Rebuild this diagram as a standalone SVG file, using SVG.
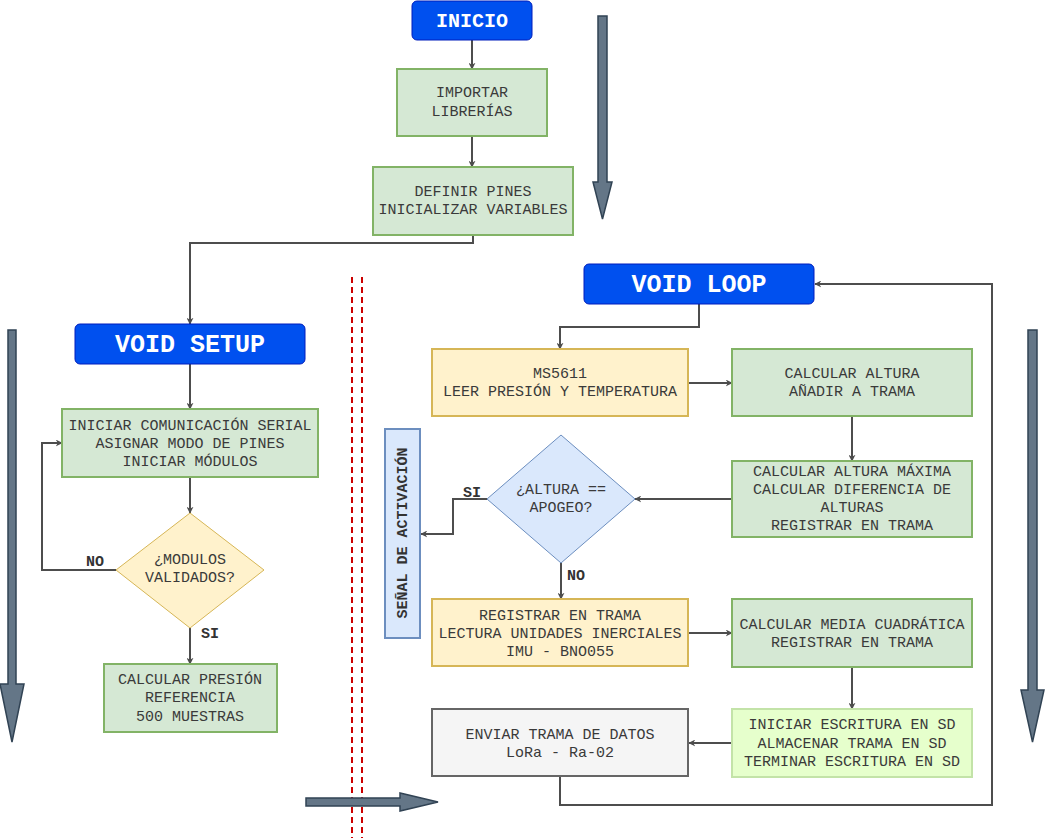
<svg xmlns="http://www.w3.org/2000/svg" width="1045" height="838" viewBox="0 0 1045 838">
<style>
.t{font-family:"Liberation Mono","Courier New",monospace;font-size:15px;fill:#3a3a3a;text-anchor:middle}
.h{font-family:"Liberation Mono","Courier New",monospace;font-weight:bold;fill:#fff;text-anchor:middle}
.lb{font-family:"Liberation Mono","Courier New",monospace;font-weight:bold;font-size:15px;fill:#333;text-anchor:middle}
.blue{fill:#0050ef;stroke:#001dbc;stroke-width:1}
.green{fill:#d5e8d4;stroke:#82b366;stroke-width:2}
.yellow{fill:#fff2cc;stroke:#d6b656;stroke-width:2}
.lgreen{fill:#e6ffcc;stroke:#c3e3a8;stroke-width:2}
.gray{fill:#f5f5f5;stroke:#666;stroke-width:2}
.lblue{fill:#dae8fc;stroke:#6c8ebf;stroke-width:2}
.big{fill:#647687;stroke:#314354;stroke-width:1.5}
.c{fill:none;stroke:#4d4d4d;stroke-width:2;marker-end:url(#a)}
.red{stroke:#cc0000;stroke-width:2;stroke-dasharray:6 4}
</style>
<defs>
<marker id="a" viewBox="0 0 10 10" refX="9" refY="5" markerWidth="7" markerHeight="7" orient="auto" markerUnits="userSpaceOnUse">
<path d="M0,0 L10,5 L0,10 L3,5 Z" fill="#4d4d4d"/>
</marker>
</defs>

<g id="divider">
<line class="red" x1="352" y1="277" x2="352" y2="838"/>
<line class="red" x1="362" y1="277" x2="362" y2="838"/>
</g>

<g id="big-arrows">
<polygon class="big" points="598,16 607,16 607,182 612,182 602.5,219 593,182 598,182"/>
<polygon class="big" points="8,330 16,330 16,684 24,684 12,742 0,684 8,684"/>
<polygon class="big" points="1028,330 1037,330 1037,690 1044,690 1032.5,742 1021,690 1028,690"/>
<polygon class="big" points="306,798 400,798 400,793 438,802 400,811 400,806 306,806"/>
</g>

<g id="connectors">
<path class="c" d="M472,40 V69"/>
<path class="c" d="M472,136 V167"/>
<path class="c" d="M473,235 V243 H190 V324"/>
<path class="c" d="M190,364 V409"/>
<path class="c" d="M190,477 V513"/>
<path class="c" d="M116,570 H42 V443 H62"/>
<path class="c" d="M190,628 V664"/>
<path class="c" d="M699,304 V327 H560 V349"/>
<path class="c" d="M688,383 H732"/>
<path class="c" d="M852,416 V461"/>
<path class="c" d="M732,499 H635"/>
<path class="c" d="M487,499 H453 V534 H421"/>
<path class="c" d="M561,563 V599"/>
<path class="c" d="M688,633 H732"/>
<path class="c" d="M852,667 V709"/>
<path class="c" d="M732,743 H689"/>
<path class="c" d="M560,776 V805 H992 V284 H815"/>
<text class="lb" x="95" y="566">NO</text>
<text class="lb" x="210" y="638">SI</text>
<text class="lb" x="472" y="497">SI</text>
<text class="lb" x="576" y="580">NO</text>
</g>

<g id="inicio">
<rect class="blue" x="412" y="1" width="120" height="39" rx="5"/>
<text class="h" x="472" y="27" font-size="20">INICIO</text>
</g>

<g id="importar">
<rect class="green" x="397" y="69" width="150" height="67"/>
<text class="t" x="472" y="97">IMPORTAR</text>
<text class="t" x="472" y="116">LIBRERÍAS</text>
</g>

<g id="definir">
<rect class="green" x="373" y="167" width="200" height="68"/>
<text class="t" x="473" y="196">DEFINIR PINES</text>
<text class="t" x="473" y="214">INICIALIZAR VARIABLES</text>
</g>

<g id="void-setup">
<rect class="blue" x="75" y="324" width="230" height="40" rx="5"/>
<text class="h" x="190" y="352" font-size="25">VOID SETUP</text>
</g>

<g id="iniciar">
<rect class="green" x="62" y="409" width="256" height="68"/>
<text class="t" x="190" y="430">INICIAR COMUNICACIÓN SERIAL</text>
<text class="t" x="190" y="448">ASIGNAR MODO DE PINES</text>
<text class="t" x="190" y="466">INICIAR MÓDULOS</text>
</g>

<g id="modulos">
<polygon points="190,513 264,570 190,628 116,570" fill="#fff2cc" stroke="#d6b656" stroke-width="1"/>
<text class="t" x="190" y="564">¿MODULOS</text>
<text class="t" x="190" y="582">VALIDADOS?</text>
</g>

<g id="presion">
<rect class="green" x="104" y="664" width="173" height="68"/>
<text class="t" x="190" y="684">CALCULAR PRESIÓN</text>
<text class="t" x="190" y="702">REFERENCIA</text>
<text class="t" x="190" y="721">500 MUESTRAS</text>
</g>

<g id="void-loop">
<rect class="blue" x="584" y="264" width="230" height="40" rx="5"/>
<text class="h" x="699" y="292" font-size="25">VOID LOOP</text>
</g>

<g id="ms5611">
<rect class="yellow" x="432" y="349" width="256" height="67"/>
<text class="t" x="560" y="378">MS5611</text>
<text class="t" x="560" y="396">LEER PRESIÓN Y TEMPERATURA</text>
</g>

<g id="altura">
<rect class="green" x="732" y="349" width="240" height="67"/>
<text class="t" x="852" y="378">CALCULAR ALTURA</text>
<text class="t" x="852" y="396">AÑADIR A TRAMA</text>
</g>

<g id="altura-max">
<rect class="green" x="732" y="461" width="240" height="76"/>
<text class="t" x="852" y="476">CALCULAR ALTURA MÁXIMA</text>
<text class="t" x="852" y="494">CALCULAR DIFERENCIA DE</text>
<text class="t" x="852" y="512">ALTURAS</text>
<text class="t" x="852" y="530">REGISTRAR EN TRAMA</text>
</g>

<g id="apogeo">
<polygon points="561,435 635,499 561,563 487,499" fill="#dae8fc" stroke="#6c8ebf" stroke-width="1"/>
<text class="t" x="561" y="494">¿ALTURA ==</text>
<text class="t" x="561" y="512">APOGEO?</text>
</g>

<g id="senal">
<rect class="lblue" x="385" y="429" width="35" height="209"/>
<text class="lb" font-size="13.5" transform="translate(407,533) rotate(-90)">SEÑAL DE ACTIVACIÓN</text>
</g>

<g id="imu">
<rect class="yellow" x="432" y="599" width="256" height="67"/>
<text class="t" x="560" y="620">REGISTRAR EN TRAMA</text>
<text class="t" x="560" y="638">LECTURA UNIDADES INERCIALES</text>
<text class="t" x="560" y="656">IMU - BNO055</text>
</g>

<g id="media">
<rect class="green" x="732" y="599" width="240" height="68"/>
<text class="t" x="852" y="629">CALCULAR MEDIA CUADRÁTICA</text>
<text class="t" x="852" y="647">REGISTRAR EN TRAMA</text>
</g>

<g id="sd">
<rect class="lgreen" x="732" y="709" width="240" height="68"/>
<text class="t" x="852" y="729">INICIAR ESCRITURA EN SD</text>
<text class="t" x="852" y="748">ALMACENAR TRAMA EN SD</text>
<text class="t" x="852" y="766">TERMINAR ESCRITURA EN SD</text>
</g>

<g id="lora">
<rect class="gray" x="432" y="709" width="256" height="67"/>
<text class="t" x="560" y="739">ENVIAR TRAMA DE DATOS</text>
<text class="t" x="560" y="757">LoRa - Ra-02</text>
</g>
</svg>
